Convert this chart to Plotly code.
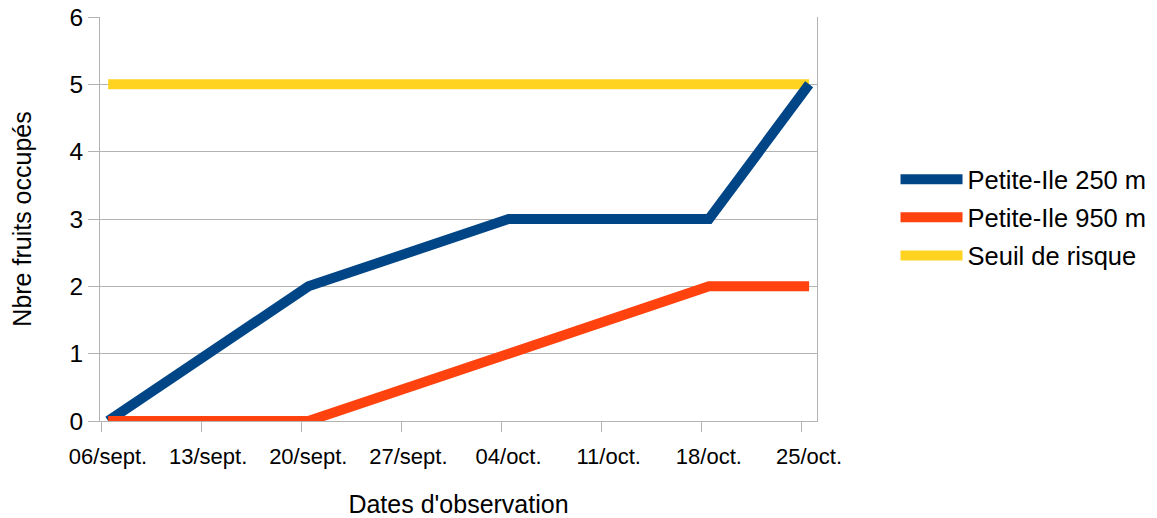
import plotly.graph_objects as go

dates = ["2011-09-06 12:00", "2011-09-20 12:00", "2011-10-04 12:00", "2011-10-18 12:00", "2011-10-25 12:00"]
petite_ile_250 = [0, 2, 3, 3, 5]
petite_ile_950 = [0, 0, 1, 2, 2]
seuil = [5, 5, 5, 5, 5]

tick_dates = ["2011-09-06", "2011-09-13", "2011-09-20", "2011-09-27",
              "2011-10-04", "2011-10-11", "2011-10-18", "2011-10-25"]
tick_labels = ["06/sept.", "13/sept.", "20/sept.", "27/sept.",
               "04/oct.", "11/oct.", "18/oct.", "25/oct."]

FONT = "Liberation Sans, Arial, sans-serif"
GRID = "#b3b3b3"

fig = go.Figure()
fig.add_trace(go.Scatter(x=dates, y=seuil, mode="lines", name="Seuil de risque",
                         line=dict(color="#ffd320", width=10), legendrank=3, legendgroup="c"))
fig.add_trace(go.Scatter(x=dates, y=petite_ile_250, mode="lines", name="Petite-Ile 250 m",
                         line=dict(color="#004586", width=10), legendrank=1, legendgroup="a"))
fig.add_trace(go.Scatter(x=dates, y=petite_ile_950, mode="lines", name="Petite-Ile 950 m",
                         line=dict(color="#ff420e", width=10), legendrank=2, legendgroup="b"))

fig.update_layout(
    width=1157, height=518,
    margin=dict(l=100, r=340, t=17, b=97, autoexpand=False),
    paper_bgcolor="white", plot_bgcolor="white",
    font=dict(family=FONT, color="black"),
    showlegend=True,
    legend=dict(xref="container", yref="container", x=0.774, y=0.58,
                xanchor="left", yanchor="middle", font=dict(size=25.5, family=FONT),
                itemwidth=62, tracegroupgap=2, traceorder="grouped",
                bgcolor="rgba(0,0,0,0)"),
    xaxis=dict(
        type="date", automargin=False,
        range=["2011-09-05 22:19", "2011-10-26 01:13"],
        tickmode="array", tickvals=tick_dates, ticktext=tick_labels,
        ticks="outside", ticklen=10, tickcolor=GRID, tickwidth=1,
        ticklabelstandoff=6, ticklabelshift=7,
        tickfont=dict(size=22, family=FONT),
        showgrid=False, showline=True, linecolor=GRID, linewidth=1,
        zeroline=False,
        title=dict(text="Dates d'observation", font=dict(size=25, family=FONT), standoff=35),
    ),
    yaxis=dict(
        range=[0, 6], tickmode="array", tickvals=[0, 1, 2, 3, 4, 5, 6],
        automargin=False,
        ticks="outside", ticklen=11, tickcolor=GRID, tickwidth=1,
        tickfont=dict(size=24.5, family=FONT),
        showgrid=True, gridcolor=GRID, gridwidth=1,
        showline=True, linecolor=GRID, linewidth=1, mirror=True,
        zeroline=False,
        title=dict(text="Nbre fruits occupés", font=dict(size=25, family=FONT), standoff=30),
    ),
)

fig.write_html("out.html")
